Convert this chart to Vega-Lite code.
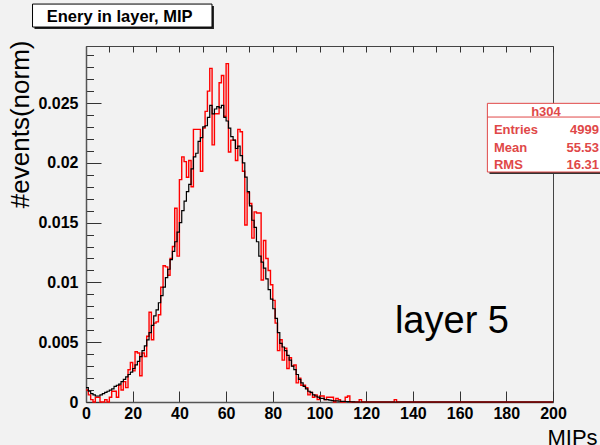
{
  "$schema": "https://vega.github.io/schema/vega-lite/v6.json",
  "width": 467,
  "height": 356,
  "autosize": {"type": "none"},
  "padding": {"left": 86, "top": 46, "right": 47, "bottom": 43},
  "background": "#f2f2f2",
  "config": {
    "view": {"stroke": "#444444", "strokeWidth": 1},
    "axis": {"labelOverlap": false, "labelFlush": false},
    "axisX": {"tickCount": 40},
    "axisY": {"tickCount": 30}
  },
  "datasets": {
    "hist": [
      {"mips":0,"black":0.0012,"red":0.0010},{"mips":1,"black":0.0009,"red":0.0006},{"mips":2,"black":0.0007,"red":0.0002},{"mips":3,"black":0.0006,"red":0},{"mips":4,"black":0.0005,"red":0.0004},
      {"mips":5,"black":0.0005,"red":0.0004},{"mips":6,"black":0.0006,"red":0},{"mips":7,"black":0.0007,"red":0},{"mips":8,"black":0.0008,"red":0.0002},{"mips":9,"black":0.0009,"red":0},
      {"mips":10,"black":0.0010,"red":0.0004},{"mips":11,"black":0.0011,"red":0.0009},{"mips":12,"black":0.0013,"red":0.0009},{"mips":13,"black":0.0014,"red":0.0004},{"mips":14,"black":0.0015,"red":0.0014},
      {"mips":15,"black":0.0017,"red":0.0010},{"mips":16,"black":0.0019,"red":0.0017},{"mips":17,"black":0.0021,"red":0.0012},{"mips":18,"black":0.0023,"red":0.0027},{"mips":19,"black":0.0025,"red":0.0033},
      {"mips":20,"black":0.0028,"red":0.0026},{"mips":21,"black":0.0031,"red":0.0042},{"mips":22,"black":0.0034,"red":0.0041},{"mips":23,"black":0.0038,"red":0.0022},{"mips":24,"black":0.0043,"red":0.0041},
      {"mips":25,"black":0.0047,"red":0.0038},{"mips":26,"black":0.0052,"red":0.0055},{"mips":27,"black":0.0058,"red":0.0075},{"mips":28,"black":0.0064,"red":0.0052},{"mips":29,"black":0.0072,"red":0.0066},
      {"mips":30,"black":0.0077,"red":0.0067},{"mips":31,"black":0.0083,"red":0.0073},{"mips":32,"black":0.0089,"red":0.0096},{"mips":33,"black":0.0096,"red":0.0114},{"mips":34,"black":0.0104,"red":0.0113},
      {"mips":35,"black":0.0111,"red":0.0106},{"mips":36,"black":0.0119,"red":0.0120},{"mips":37,"black":0.0126,"red":0.0130},{"mips":38,"black":0.0134,"red":0.0162},{"mips":39,"black":0.0142,"red":0.0122},
      {"mips":40,"black":0.0150,"red":0.0186},{"mips":41,"black":0.0160,"red":0.0205},{"mips":42,"black":0.0168,"red":0.0201},{"mips":43,"black":0.0176,"red":0.0188},{"mips":44,"black":0.0182,"red":0.0202},
      {"mips":45,"black":0.0195,"red":0.0180},{"mips":46,"black":0.0205,"red":0.0228},{"mips":47,"black":0.0208,"red":0.0228},{"mips":48,"black":0.0218,"red":0.0228},{"mips":49,"black":0.0221,"red":0.0193},
      {"mips":50,"black":0.0230,"red":0.0229},{"mips":51,"black":0.0231,"red":0.0243},{"mips":52,"black":0.0238,"red":0.0260},{"mips":53,"black":0.0248,"red":0.0279},{"mips":54,"black":0.0241,"red":0.0215},
      {"mips":55,"black":0.0245,"red":0.0241},{"mips":56,"black":0.0247,"red":0.0241},{"mips":57,"black":0.0246,"red":0.0267},{"mips":58,"black":0.0248,"red":0.0273},{"mips":59,"black":0.0238,"red":0.0239},
      {"mips":60,"black":0.0235,"red":0.0283},{"mips":61,"black":0.0229,"red":0.0209},{"mips":62,"black":0.0222,"red":0.0219},{"mips":63,"black":0.0219,"red":0.0219},{"mips":64,"black":0.0212,"red":0.0202},
      {"mips":65,"black":0.0214,"red":0.0228},{"mips":66,"black":0.0206,"red":0.0226},{"mips":67,"black":0.0200,"red":0.0193},{"mips":68,"black":0.0188,"red":0.0148},{"mips":69,"black":0.0176,"red":0.0175},
      {"mips":70,"black":0.0164,"red":0.0166},{"mips":71,"black":0.0152,"red":0.0137},{"mips":72,"black":0.0146,"red":0.0159},{"mips":73,"black":0.0134,"red":0.0158},{"mips":74,"black":0.0122,"red":0.0158},
      {"mips":75,"black":0.0117,"red":0.0102},{"mips":76,"black":0.0112,"red":0.0135},{"mips":77,"black":0.0103,"red":0.0120},{"mips":78,"black":0.0094,"red":0.0110},{"mips":79,"black":0.0086,"red":0.0098},
      {"mips":80,"black":0.0078,"red":0.0085},{"mips":81,"black":0.0070,"red":0.0066},{"mips":82,"black":0.0058,"red":0.0043},{"mips":83,"black":0.0049,"red":0.0052},{"mips":84,"black":0.0046,"red":0.0035},
      {"mips":85,"black":0.0043,"red":0.0045},{"mips":86,"black":0.0039,"red":0.0028},{"mips":87,"black":0.0035,"red":0.0037},{"mips":88,"black":0.0030,"red":0.0030},{"mips":89,"black":0.0027,"red":0.0031},
      {"mips":90,"black":0.0023,"red":0.0016},{"mips":91,"black":0.0019,"red":0.0020},{"mips":92,"black":0.0016,"red":0.0014},{"mips":93,"black":0.0013,"red":0.0014},{"mips":94,"black":0.0011,"red":0.0012},
      {"mips":95,"black":0.0009,"red":0.0006},{"mips":96,"black":0.0008,"red":0.0008},{"mips":97,"black":0.0006,"red":0.0004},{"mips":98,"black":0.0005,"red":0.0006},{"mips":99,"black":0.0004,"red":0.0002},
      {"mips":100,"black":0.0003,"red":0.0005},{"mips":101,"black":0.0003,"red":0.0005},{"mips":102,"black":0.0002,"red":0.0002},{"mips":103,"black":0.0002,"red":0.0004},{"mips":104,"black":0.00015,"red":0.0004},
      {"mips":105,"black":0.00012,"red":0.0004},{"mips":106,"black":0.0001,"red":0},{"mips":107,"black":0.0001,"red":0.0003},{"mips":108,"black":0.00008,"red":0.0002},{"mips":109,"black":0.00006,"red":0},
      {"mips":110,"black":0.00005,"red":0},{"mips":111,"black":0.00004,"red":0.0004},{"mips":112,"black":0.00003,"red":0.0005},{"mips":113,"black":0.00002,"red":0},{"mips":114,"black":0.00001,"red":0},
      {"mips":115,"black":0,"red":0},{"mips":116,"black":0,"red":0},{"mips":117,"black":0,"red":0.0002},{"mips":118,"black":0,"red":0},{"mips":119,"black":0,"red":0},
      {"mips":120,"black":0,"red":0},{"mips":121,"black":0,"red":0},{"mips":122,"black":0,"red":0},{"mips":123,"black":0,"red":0},{"mips":124,"black":0,"red":0},
      {"mips":125,"black":0,"red":0},{"mips":126,"black":0,"red":0},{"mips":127,"black":0,"red":0},{"mips":128,"black":0,"red":0},{"mips":129,"black":0,"red":0},
      {"mips":130,"black":0,"red":0},{"mips":131,"black":0,"red":0},{"mips":132,"black":0,"red":0.0002},{"mips":133,"black":0,"red":0},{"mips":134,"black":0,"red":0},
      {"mips":135,"black":0,"red":0},{"mips":136,"black":0,"red":0},{"mips":137,"black":0,"red":0},{"mips":138,"black":0,"red":0},{"mips":139,"black":0,"red":0},
      {"mips":140,"black":0,"red":0},{"mips":141,"black":0,"red":0},{"mips":142,"black":0,"red":0},{"mips":143,"black":0,"red":0},{"mips":144,"black":0,"red":0},
      {"mips":145,"black":0,"red":0},{"mips":146,"black":0,"red":0},{"mips":147,"black":0,"red":0},{"mips":148,"black":0,"red":0},{"mips":149,"black":0,"red":0},
      {"mips":150,"black":0,"red":0},{"mips":151,"black":0,"red":0},{"mips":152,"black":0,"red":0},{"mips":153,"black":0,"red":0},{"mips":154,"black":0,"red":0},
      {"mips":155,"black":0,"red":0},{"mips":156,"black":0,"red":0},{"mips":157,"black":0,"red":0},{"mips":158,"black":0,"red":0},{"mips":159,"black":0,"red":0},
      {"mips":160,"black":0,"red":0},{"mips":161,"black":0,"red":0},{"mips":162,"black":0,"red":0},{"mips":163,"black":0,"red":0},{"mips":164,"black":0,"red":0},
      {"mips":165,"black":0,"red":0},{"mips":166,"black":0,"red":0},{"mips":167,"black":0,"red":0},{"mips":168,"black":0,"red":0},{"mips":169,"black":0,"red":0},
      {"mips":170,"black":0,"red":0},{"mips":171,"black":0,"red":0},{"mips":172,"black":0,"red":0},{"mips":173,"black":0,"red":0},{"mips":174,"black":0,"red":0},
      {"mips":175,"black":0,"red":0},{"mips":176,"black":0,"red":0},{"mips":177,"black":0,"red":0},{"mips":178,"black":0,"red":0},{"mips":179,"black":0,"red":0},
      {"mips":180,"black":0,"red":0},{"mips":181,"black":0,"red":0},{"mips":182,"black":0,"red":0},{"mips":183,"black":0,"red":0},{"mips":184,"black":0,"red":0},
      {"mips":185,"black":0,"red":0},{"mips":186,"black":0,"red":0},{"mips":187,"black":0,"red":0},{"mips":188,"black":0,"red":0},{"mips":189,"black":0,"red":0},
      {"mips":190,"black":0,"red":0},{"mips":191,"black":0,"red":0},{"mips":192,"black":0,"red":0},{"mips":193,"black":0,"red":0},{"mips":194,"black":0,"red":0},
      {"mips":195,"black":0,"red":0},{"mips":196,"black":0,"red":0},{"mips":197,"black":0,"red":0},{"mips":198,"black":0,"red":0},{"mips":199,"black":0,"red":0},
      {"mips":200,"black":0,"red":0}
    ]
  },
  "layer": [
    {
      "data": {"name": "hist"},
      "mark": {"type": "line", "interpolate": "step-after", "color": "#ff0000", "strokeWidth": 1.4},
      "encoding": {
        "x": {
          "field": "mips", "type": "quantitative",
          "scale": {"domain": [0, 200], "nice": false, "zero": false},
          "axis": {
            "values": [0,5,10,15,20,25,30,35,40,45,50,55,60,65,70,75,80,85,90,95,100,105,110,115,120,125,130,135,140,145,150,155,160,165,170,175,180,185,190,195,200],
            "labelExpr": "datum.value % 20 == 0 ? datum.label : ''",
            "tickSize": -11,
            "tickColor": "#333333",
            "tickOpacity": {"condition": {"test": "datum.value % 20 == 0", "value": 1}, "value": 0},
            "grid": true,
            "gridDash": [6, 1000],
            "gridColor": "#333333",
            "gridOpacity": 1,
            "labelPadding": 14,
            "labelFont": "Liberation Sans",
            "labelFontWeight": "bold",
            "labelFontSize": 16,
            "labelColor": "#000000",
            "labelOverlap": false,
            "labelFlush": false,
            "domainColor": "#555555",
            "domainWidth": 1.5,
            "title": "MIPs",
            "titleFont": "Liberation Sans",
            "titleFontWeight": "normal",
            "titleFontSize": 22,
            "titleColor": "#000000",
            "titleX": 461,
            "titleY": 42,
            "titleAlign": "left",
            "titleBaseline": "alphabetic"
          }
        },
        "y": {
          "field": "red", "type": "quantitative",
          "scale": {"domain": [0, 0.02977], "nice": false, "zero": false},
          "axis": {
            "values": [0,0.001,0.002,0.003,0.004,0.005,0.006,0.007,0.008,0.009,0.01,0.011,0.012,0.013,0.014,0.015,0.016,0.017,0.018,0.019,0.02,0.021,0.022,0.023,0.024,0.025,0.026,0.027,0.028,0.029],
            "labelExpr": "round(datum.value*1000) % 5 == 0 ? (datum.value == 0 ? '0' : format(datum.value, '.3~f')) : ''",
            "tickSize": -15,
            "tickColor": "#333333",
            "tickOpacity": {"condition": {"test": "round(datum.value*1000) % 5 == 0", "value": 1}, "value": 0},
            "grid": true,
            "gridDash": [7.5, 1000],
            "gridColor": "#333333",
            "gridOpacity": 1,
            "labelPadding": 23,
            "labelFont": "Liberation Sans",
            "labelFontWeight": "bold",
            "labelFontSize": 16,
            "labelColor": "#000000",
            "labelOverlap": false,
            "domainColor": "#555555",
            "domainWidth": 1.5,
            "title": "#events(norm)",
            "titleFont": "Liberation Sans",
            "titleFontWeight": "normal",
            "titleFontSize": 26,
            "titleColor": "#000000",
            "titleAngle": 270,
            "titleX": -58,
            "titleY": -6,
            "titleAlign": "right",
            "titleBaseline": "alphabetic"
          }
        }
      }
    },
    {
      "data": {"name": "hist"},
      "mark": {"type": "line", "interpolate": "step-after", "color": "#000000", "strokeWidth": 1.2},
      "encoding": {
        "x": {"field": "mips", "type": "quantitative", "scale": {"domain": [0, 200], "nice": false, "zero": false}},
        "y": {"field": "black", "type": "quantitative", "scale": {"domain": [0, 0.02977], "nice": false, "zero": false}}
      }
    },
    {
      "data": {"values": [{"part": "title shadow"}]},
      "mark": {"type": "rect", "fill": "#222222"},
      "encoding": {
        "x": {"datum": -22.06, "type": "quantitative", "scale": {"domain": [0, 200], "nice": false, "zero": false}},
        "x2": {"datum": 54.8},
        "y": {"datum": 0.03311, "type": "quantitative", "scale": {"domain": [0, 0.02977], "nice": false, "zero": false}},
        "y2": {"datum": 0.031187}
      }
    },
    {
      "data": {"values": [{"part": "title box"}]},
      "mark": {"type": "rect", "fill": "#ffffff", "stroke": "#000000", "strokeWidth": 1},
      "encoding": {
        "x": {"datum": -22.9, "type": "quantitative", "scale": {"domain": [0, 200], "nice": false, "zero": false}},
        "x2": {"datum": 53.96},
        "y": {"datum": 0.033278, "type": "quantitative", "scale": {"domain": [0, 0.02977], "nice": false, "zero": false}},
        "y2": {"datum": 0.031355}
      }
    },
    {
      "data": {"values": [{"label": "Enery in layer, MIP"}]},
      "mark": {"type": "text", "font": "Liberation Sans", "fontWeight": "bold", "fontSize": 16.5, "color": "#000000", "align": "left", "baseline": "alphabetic"},
      "encoding": {
        "text": {"field": "label"},
        "x": {"datum": -16.8, "type": "quantitative", "scale": {"domain": [0, 200], "nice": false, "zero": false}},
        "y": {"datum": 0.031798, "type": "quantitative", "scale": {"domain": [0, 0.02977], "nice": false, "zero": false}}
      }
    },
    {
      "data": {"values": [{"part": "stats shadow"}]},
      "mark": {"type": "rect", "fill": "#333333"},
      "encoding": {
        "x": {"datum": 172.8, "type": "quantitative", "scale": {"domain": [0, 200], "nice": false, "zero": false}},
        "x2": {"datum": 226},
        "y": {"datum": 0.024808, "type": "quantitative", "scale": {"domain": [0, 0.02977], "nice": false, "zero": false}},
        "y2": {"datum": 0.019064}
      }
    },
    {
      "data": {"values": [{"part": "stats box"}]},
      "mark": {"type": "rect", "fill": "#ffffff", "stroke": "#e04848", "strokeWidth": 1},
      "encoding": {
        "x": {"datum": 171.9, "type": "quantitative", "scale": {"domain": [0, 200], "nice": false, "zero": false}},
        "x2": {"datum": 224.8},
        "y": {"datum": 0.024975, "type": "quantitative", "scale": {"domain": [0, 0.02977], "nice": false, "zero": false}},
        "y2": {"datum": 0.019231}
      }
    },
    {
      "data": {"values": [{"part": "stats header line"}]},
      "mark": {"type": "rule", "color": "#e04848", "strokeWidth": 1},
      "encoding": {
        "x": {"datum": 171.9, "type": "quantitative", "scale": {"domain": [0, 200], "nice": false, "zero": false}},
        "x2": {"datum": 224.8},
        "y": {"datum": 0.02383, "type": "quantitative", "scale": {"domain": [0, 0.02977], "nice": false, "zero": false}}
      }
    },
    {
      "data": {"values": [{"label": "h304"}]},
      "mark": {"type": "text", "font": "Liberation Sans", "fontWeight": "bold", "fontSize": 13, "color": "#e04848", "align": "center", "baseline": "alphabetic"},
      "encoding": {
        "text": {"field": "label"},
        "x": {"datum": 197.0, "type": "quantitative", "scale": {"domain": [0, 200], "nice": false, "zero": false}},
        "y": {"datum": 0.023938, "type": "quantitative", "scale": {"domain": [0, 0.02977], "nice": false, "zero": false}}
      }
    },
    {
      "data": {"values": [{"label": "Entries"}]},
      "mark": {"type": "text", "text": ["Entries", "Mean", "RMS"], "lineHeight": 17.4, "font": "Liberation Sans", "fontWeight": "bold", "fontSize": 13, "color": "#e04848", "align": "left", "baseline": "alphabetic"},
      "encoding": {
        "x": {"datum": 174.7, "type": "quantitative", "scale": {"domain": [0, 200], "nice": false, "zero": false}},
        "y": {"datum": 0.022383, "type": "quantitative", "scale": {"domain": [0, 0.02977], "nice": false, "zero": false}}
      }
    },
    {
      "data": {"values": [{"label": "values"}]},
      "mark": {"type": "text", "text": ["4999", "55.53", "16.31"], "lineHeight": 17.4, "font": "Liberation Sans", "fontWeight": "bold", "fontSize": 13, "color": "#e04848", "align": "right", "baseline": "alphabetic"},
      "encoding": {
        "x": {"datum": 219.7, "type": "quantitative", "scale": {"domain": [0, 200], "nice": false, "zero": false}},
        "y": {"datum": 0.022383, "type": "quantitative", "scale": {"domain": [0, 0.02977], "nice": false, "zero": false}}
      }
    },
    {
      "data": {"values": [{"label": "layer 5"}]},
      "mark": {"type": "text", "font": "Liberation Sans", "fontSize": 38, "color": "#000000", "align": "left", "baseline": "alphabetic"},
      "encoding": {
        "text": {"field": "label"},
        "x": {"datum": 132.3, "type": "quantitative", "scale": {"domain": [0, 200], "nice": false, "zero": false}},
        "y": {"datum": 0.00577, "type": "quantitative", "scale": {"domain": [0, 0.02977], "nice": false, "zero": false}}
      }
    }
  ]
}
